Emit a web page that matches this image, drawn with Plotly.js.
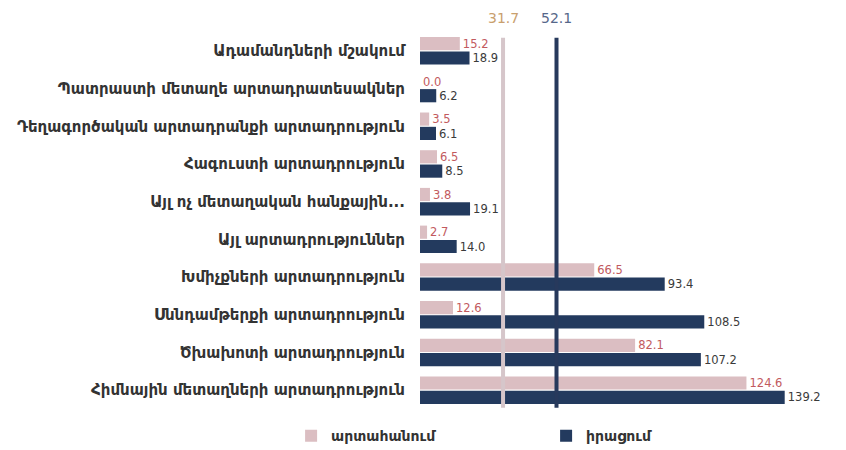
<!DOCTYPE html>
<html>
<head>
<meta charset="utf-8">
<script src="https://cdn.plot.ly/plotly-3.0.1.min.js"></script>
<style>html,body{margin:0;padding:0;background:#fff;}#chart{width:846px;height:450px;}</style>
</head>
<body>
<div id="chart"></div>
<script>
const categories = [
  "Ադամանդների մշակում",
  "Պատրաստի մետաղե արտադրատեսակներ",
  "Դեղագործական արտադրանքի արտադրություն",
  "Հագուստի արտադրություն",
  "Այլ ոչ մետաղական հանքային...",
  "Այլ արտադրություններ",
  "Խմիչքների արտադրություն",
  "Սննդամթերքի արտադրություն",
  "Ծխախոտի արտադրություն",
  "Հիմնային մետաղների արտադրություն"
];
const seriesNames = ["արտահանում", "իրացում"];
const exportValues = [15.2, 0.0, 3.5, 6.5, 3.8, 2.7, 66.5, 12.6, 82.1, 124.6];
const salesValues = [18.9, 6.2, 6.1, 8.5, 19.1, 14.0, 93.4, 108.5, 107.2, 139.2];
const averages = [31.7, 52.1];

const pink = "#dbbec2";
const navy = "#233a5e";
const font = "DejaVu Sans, sans-serif";

const traces = [
  {
    type: "bar", orientation: "h", name: seriesNames[0],
    y: categories, x: exportValues,
    marker: {color: pink},
    text: exportValues.map(v => v.toFixed(1)), textposition: "outside",
    textfont: {color: "#c25a5e", size: 14, family: font},
    cliponaxis: false
  },
  {
    type: "bar", orientation: "h", name: seriesNames[1],
    y: categories, x: salesValues,
    marker: {color: navy},
    text: salesValues.map(v => v.toFixed(1)), textposition: "outside",
    textfont: {color: "#3a3a3a", size: 14, family: font},
    cliponaxis: false
  }
];

const layout = {
  width: 846, height: 450,
  margin: {l: 420, r: 33, t: 32, b: 41, autoexpand: false},
  paper_bgcolor: "#fff", plot_bgcolor: "#fff",
  barmode: "group", bargap: 0.24, bargroupgap: 0.08,
  font: {family: font, color: "#333", size: 14},
  xaxis: {range: [0, 150], showgrid: false, zeroline: false, showticklabels: false, showline: false, ticks: ""},
  yaxis: {autorange: "reversed", showgrid: false, zeroline: false, showline: false, ticks: "",
          ticklabelstandoff: 14, tickfont: {size: 15, color: "#333", family: font, weight: "bold"}},
  showlegend: true,
  legend: {orientation: "h", xref: "paper", yref: "paper", x: -0.328, xanchor: "left",
           y: -0.072, yanchor: "middle",
           entrywidth: 210, entrywidthmode: "pixels",
           font: {size: 14, color: "#333", family: font, weight: "bold"},
           itemwidth: 30},
  shapes: [
    {type: "line", xref: "x", yref: "paper", x0: averages[0], x1: averages[0], y0: 0.003, y1: 0.985,
     line: {color: "#d6c6ca", width: 4}, layer: "above"},
    {type: "line", xref: "x", yref: "paper", x0: averages[1], x1: averages[1], y0: 0.003, y1: 0.985,
     line: {color: "#27395c", width: 4}, layer: "above"}
  ],
  annotations: [
    {xref: "x", yref: "paper", x: averages[0], y: 1.01, yanchor: "bottom", showarrow: false,
     text: averages[0].toFixed(1), font: {color: "#c9a06e", size: 14, family: font}},
    {xref: "x", yref: "paper", x: averages[1], y: 1.01, yanchor: "bottom", showarrow: false,
     text: averages[1].toFixed(1), font: {color: "#56678a", size: 14, family: font}}
  ]
};

Plotly.newPlot("chart", traces, layout, {displayModeBar: false, staticPlot: true});
</script>
</body>
</html>
